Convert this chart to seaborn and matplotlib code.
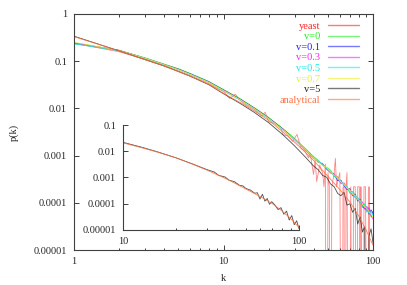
import numpy as np
import pandas as pd
import seaborn as sns
import matplotlib.pyplot as plt
from matplotlib.lines import Line2D
from matplotlib.ticker import FixedLocator, FixedFormatter, NullLocator, NullFormatter

# degree distribution p(k), values as log10(p)
# None = zero count (drawn as a drop to the bottom, like gnuplot does)
k_sim = [1, 2, 3, 4, 5, 6, 8, 10, 13, 16, 20, 25, 30, 35, 40,
         43, 46, 49, 52, 55, 58, 61, 64, 67, 70, 73, 76, 79, 82, 85, 88, 91, 94, 97, 100]

logp_v0 = [-0.63, -0.77, -0.93, -1.06, -1.16, -1.26, -1.43, -1.60, -1.80, -1.98, -2.19, -2.43, -2.64, -2.84, -3.02,
           -3.10, -3.21, -3.25, -3.31, -3.44, -3.45, -3.58, -3.60, -3.66, -3.80, -3.76, -3.83, -3.97, -3.92, -4.10,
           -4.02, -4.20, -4.12, -4.30, -4.18]
logp_v01 = [-0.61, -0.77, -0.94, -1.07, -1.17, -1.27, -1.44, -1.61, -1.81, -1.99, -2.20, -2.44, -2.66, -2.86, -3.04,
            -3.14, -3.17, -3.29, -3.36, -3.39, -3.53, -3.52, -3.64, -3.72, -3.70, -3.85, -3.82, -3.95, -3.93, -4.06,
            -4.13, -4.08, -4.24, -4.15, -4.22]
logp_v03 = [-0.62, -0.77, -0.94, -1.07, -1.18, -1.28, -1.45, -1.62, -1.82, -2.00, -2.21, -2.45, -2.67, -2.87, -3.05,
            -3.12, -3.20, -3.26, -3.37, -3.40, -3.46, -3.59, -3.58, -3.71, -3.72, -3.84, -3.88, -3.90, -4.01, -3.98,
            -4.12, -4.17, -4.10, -4.28, -4.34]
logp_v05 = [-0.63, -0.78, -0.94, -1.08, -1.18, -1.28, -1.45, -1.63, -1.83, -2.01, -2.22, -2.46, -2.67, -2.87, -3.05,
            -3.11, -3.18, -3.28, -3.33, -3.43, -3.49, -3.54, -3.63, -3.66, -3.77, -3.79, -3.89, -3.88, -3.99, -4.07,
            -4.04, -4.16, -4.22, -4.19, -4.26]
logp_v07 = [-0.60, -0.77, -0.94, -1.07, -1.18, -1.28, -1.45, -1.62, -1.82, -2.00, -2.21, -2.45, -2.66, -2.86, -3.04,
            -3.13, -3.21, -3.25, -3.35, -3.41, -3.47, -3.56, -3.61, -3.69, -3.73, -3.82, -3.84, -3.93, -3.95, -4.03,
            -4.09, -4.11, -4.19, -4.24, -4.30]
logp_v5 = [-0.47, -0.78, -0.97, -1.10, -1.22, -1.32, -1.50, -1.69, -1.90, -2.08, -2.30, -2.56, -2.80, -3.02, -3.22,
           -3.30, -3.42, -3.46, -3.60, -3.66, -3.80, -3.85, -3.78, -4.05, -4.02, -4.20, -4.12, -4.45, -4.30, -4.62,
           -4.50, None, -4.70, -4.55, -4.85]

k_yeast = [1, 2, 3, 4, 5, 6, 7, 8, 9, 10, 11, 12, 13, 14, 16, 18, 19, 20, 22, 24, 25, 27, 29, 31, 33, 35, 37, 38,
           40, 41, 42, 44, 45, 46, 47, 48, 49, 50, 51, 52, 53, 55, 56, 57, 60, 62, 63, 64, 65, 66, 67,
           69, 71, 73, 74, 76, 78, 79, 81, 82, 83, 86, 87, 89, 93, 94, 95]
logp_yeast = [-0.62, -0.80, -0.96, -1.10, -1.21, -1.31, -1.40, -1.48, -1.57, -1.64, -1.79, -1.70, -1.84, -1.92,
              -2.02, -2.16, -2.08, -2.28, -2.32, -2.38, -2.56, -2.58, -2.70, -2.55, -2.84, -2.90, -3.05, -2.95,
              -3.40, -3.10, -3.55, -3.20, -3.30, -3.36, -3.66, -3.18, None, -3.36, -3.66, None, -3.66, -3.36,
              -3.06, -3.66, -3.36, None, -3.66, -3.66, None, -3.66, -3.36, None, -3.66, None,
              -3.66, -3.66, None, -3.66, -3.66, None, -3.66, None, -3.66, -3.66, None, -3.66, None]

k_an = [1, 2, 3, 4, 5, 6, 8, 10, 13, 16, 20, 25, 30, 35, 40, 45, 50, 60, 70, 80, 90, 100]
logp_an = [-0.48, -0.78, -0.97, -1.10, -1.22, -1.32, -1.49, -1.68, -1.88, -2.05, -2.25, -2.50, -2.72, -2.92,
           -3.10, -3.28, -3.44, -3.72, -3.98, -4.27, -4.58, -4.90]

# inset: v=5 simulation against the analytical curve
k_ins = [10, 13, 16, 20, 25, 30, 33, 35, 38, 40, 43, 46, 48, 50, 53, 56, 58, 60, 62, 64, 66, 68, 70, 73, 76, 79,
         82, 85, 88, 91, 94, 97, 100]
logp_ins = [-1.66, -1.86, -2.04, -2.25, -2.49, -2.70, -2.79, -2.92, -2.98, -3.10, -3.16, -3.30, -3.32, -3.42,
            -3.48, -3.60, -3.58, -3.82, -3.64, -3.90, -3.80, -4.02, -3.92, -4.05, -4.22, -4.15, -4.40, -4.28,
            -4.62, -4.45, -4.80, -4.65, -4.95]

labels = ['yeast', 'v=0', 'v=0.1', 'v=0.3', 'v=0.5', 'v=0.7', 'v=5', 'analytical']
colors = ['#ff2020', '#20ee20', '#2020ff', '#ff20ff', '#20e8e8', '#eeee20', '#202020', '#ff7040']
alphas = [0.55, 0.9, 0.9, 0.9, 0.9, 0.9, 0.8, 0.9]


def to_p(logs):
    return np.array([10.0 ** v if v is not None else 1e-12 for v in logs])


sns.set_style('ticks')
plt.rcParams['font.family'] = ['Liberation Serif', 'DejaVu Serif']
plt.rcParams['font.size'] = 7.5
plt.rcParams['axes.edgecolor'] = '#404040'
plt.rcParams['axes.linewidth'] = 0.8

fig = plt.figure(figsize=(4.07, 2.85), dpi=100)
ax = fig.add_axes([0.1818, 0.1228, 0.7347, 0.8281])

series = [(k_yeast, logp_yeast), (k_sim, logp_v0), (k_sim, logp_v01), (k_sim, logp_v03),
          (k_sim, logp_v05), (k_sim, logp_v07), (k_sim, logp_v5), (k_an, logp_an)]
for (kk, lp), col, a in zip(series, colors, alphas):
    sns.lineplot(x=kk, y=to_p(lp), ax=ax, color=col, lw=0.6, alpha=a,
                 estimator=None, sort=False)

ax.set_xscale('log')
ax.set_yscale('log')
ax.set_xlim(1, 100)
ax.set_ylim(1e-5, 1)

yt = [1e-5, 1e-4, 1e-3, 1e-2, 0.1, 1]
ax.yaxis.set_major_locator(FixedLocator(yt))
ax.yaxis.set_major_formatter(FixedFormatter(['0.00001', '0.0001', '0.001', '0.01', '0.1', '1']))
ax.yaxis.set_minor_locator(NullLocator())
ax.xaxis.set_major_locator(FixedLocator([1, 10, 100]))
ax.xaxis.set_major_formatter(FixedFormatter(['1', '10', '100']))
ax.xaxis.set_minor_locator(FixedLocator([2, 3, 4, 5, 6, 7, 8, 9, 20, 30, 40, 50, 60, 70, 80, 90]))
ax.xaxis.set_minor_formatter(NullFormatter())
ax.tick_params(which='both', direction='in', top=True, right=True, color='#404040', width=0.7)
ax.tick_params(which='major', length=3.5, pad=5)
ax.tick_params(which='minor', length=1.8)
ax.set_xlabel('k', labelpad=6)
ax.set_ylabel('p(k)', labelpad=11)

handles = [Line2D([], [], color=c, lw=1.0, alpha=0.6) for c in colors]
leg = ax.legend(handles, labels, loc='upper right', bbox_to_anchor=(0.953, 0.968), frameon=False,
                markerfirst=False, handlelength=3.0, handletextpad=0.7, labelspacing=0.12,
                borderpad=0, borderaxespad=0, fontsize=7.5)
for t, c in zip(leg.get_texts(), colors):
    t.set_color(c)

# inset
axi = fig.add_axes([0.3022, 0.193, 0.4324, 0.3684])
axi.patch.set_alpha(0)
sns.lineplot(x=k_ins, y=to_p(logp_ins), ax=axi, color=colors[6], lw=0.6, alpha=0.8,
             estimator=None, sort=False)
k_an_in = [k for k in k_an if k >= 10]
logp_an_in = [v for k, v in zip(k_an, logp_an) if k >= 10]
sns.lineplot(x=k_an_in, y=to_p(logp_an_in), ax=axi, color=colors[7], lw=0.6, alpha=0.9,
             estimator=None, sort=False)
axi.set_xscale('log')
axi.set_yscale('log')
axi.set_xlim(10, 100)
axi.set_ylim(1e-5, 0.1)
axi.yaxis.set_major_locator(FixedLocator([1e-5, 1e-4, 1e-3, 1e-2, 0.1]))
axi.yaxis.set_major_formatter(FixedFormatter(['0.00001', '0.0001', '0.001', '0.01', '0.1']))
axi.yaxis.set_minor_locator(NullLocator())
axi.xaxis.set_major_locator(FixedLocator([10, 100]))
axi.xaxis.set_major_formatter(FixedFormatter(['10', '100']))
axi.xaxis.set_minor_locator(FixedLocator([20, 30, 40, 50, 60, 70, 80, 90]))
axi.xaxis.set_minor_formatter(NullFormatter())
axi.spines['top'].set_visible(False)
axi.spines['right'].set_visible(False)
axi.tick_params(which='both', direction='in', color='#404040', width=0.7)
axi.tick_params(which='major', length=3.5, pad=5)
axi.tick_params(which='minor', length=1.8)
axi.set_xlabel('')
axi.set_ylabel('')

fig.savefig('out.png', dpi=100)
